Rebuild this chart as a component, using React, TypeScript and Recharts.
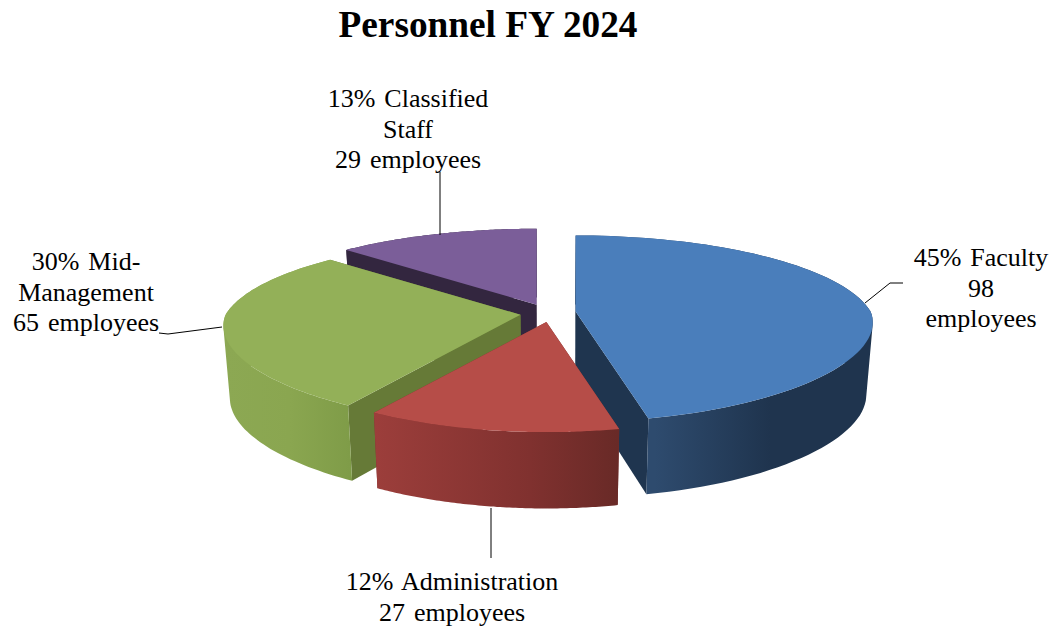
import { PieChart, Pie } from "recharts";

const names = ["Faculty", "Classified Staff", "Mid-Management", "Administration"];
const employees = [98, 29, 65, 27];
const percents = [45, 13, 30, 12];
const labelLines = [
  ["45% Faculty", "98", "employees"],
  ["13% Classified", "Staff", "29 employees"],
  ["30% Mid-", "Management", "65 employees"],
  ["12% Administration", "27 employees"],
];

const data = names.map((name, i) => ({ name, value: employees[i], percent: percents[i], lines: labelLines[i] }));

// slices go counter-clockwise so that the paint order is back to front
const total = employees.reduce((a, b) => a + b, 0);
const START = 90 - (360 * employees[0]) / total;

const WIDTH = 1059;
const HEIGHT = 627;
const CX = 548;
const CY = 313;
const RADIUS = 295;

// fake 3D projection
const TILT = 0.305;
const PERSP = 0.183;
const PERSP_X_FRONT = 0.12;
const SKEW = 6.5;
const EXPLODE_X = 28;
const EXPLODE_Y = 9;
const SHRINK = 0.98;

const styles: Record<string, any> = {
  Faculty: { top: "#4A7EBB", inner: "#1F354F", wall: ["#2E4B6E", "#1F344E", "#1F344E"], x: [655, 770, 870] },
  "Classified Staff": { top: "#7B5E99", inner: "#33263F", wall: ["#33263F", "#33263F", "#33263F"], x: [350, 450, 540] },
  "Mid-Management": { top: "#93B058", inner: "#667A37", wall: ["#8CA853", "#8AA650", "#7F9C48"], x: [226, 290, 350] },
  Administration: { top: "#B64D48", inner: "#7A302E", wall: ["#9C3E3B", "#80312F", "#692A27"], x: [375, 530, 617] },
};

const labelLayout: Record<string, any> = {
  Faculty: { x: 981, y: 266, leader: "865,303 890,283 903,283" },
  "Classified Staff": { x: 408, y: 107, leader: "440,172 440,235" },
  "Mid-Management": { x: 86, y: 270, leader: "159,333 168,334 222,327" },
  Administration: { x: 452, y: 590, leader: "491,508 491,558" },
};

const rad = (d: number) => (d * Math.PI) / 180;

function project(angle: number, ax: number, ay: number, r: number) {
  const t0 = 90 - angle;
  const t = t0 + (SKEW * (1 - Math.cos(rad(t0)))) / 2;
  const X = Math.sin(rad(t));
  const Y = -Math.cos(rad(t));
  const sy = 1 / (1 - PERSP * Y);
  const sx = Y > 0 ? 1 / (1 - PERSP_X_FRONT * Y) : sy;
  return [ax + r * X * sx, ay + r * TILT * Y * sy];
}

function lower(p: number[], cx: number, cy: number) {
  return [cx + (p[0] - cx) * SHRINK, p[1] + 72 + ((p[1] - cy) / 110) * 4];
}

const toPath = (pts: number[][]) => "M" + pts.map((p) => `${p[0].toFixed(1)},${p[1].toFixed(1)}`).join("L") + "Z";

// one quad per arc step, all wound the same way, so the silhouette at the sides stays filled
function wallPath(arc: number[][], cx: number, cy: number) {
  let d = "";
  for (let i = 0; i < arc.length - 1; i++) {
    const a = arc[i];
    const b = arc[i + 1];
    const quad = [a, b, lower(b, cx, cy), lower(a, cx, cy)];
    let area = 0;
    quad.forEach((p, j) => {
      const q = quad[(j + 1) % 4];
      area += p[0] * q[1] - q[0] * p[1];
    });
    d += toPath(area < 0 ? quad.slice().reverse() : quad);
  }
  return d;
}

function Slice(props: any) {
  const { cx, cy, outerRadius, startAngle, endAngle, name } = props;
  const st = styles[name];
  const mid = (startAngle + endAngle) / 2;
  const ax = cx + EXPLODE_X * Math.cos(rad(mid));
  const ay = cy - EXPLODE_Y * Math.sin(rad(mid));
  const arc: number[][] = [];
  for (let i = 0; i <= 80; i++) {
    arc.push(project(startAngle + ((endAngle - startAngle) * i) / 80, ax, ay, outerRadius));
  }
  const apex = [ax, ay];
  const first = arc[0];
  const last = arc[arc.length - 1];
  const gradId = "wall-" + name.replace(/\W/g, "");
  return (
    <g>
      <defs>
        <linearGradient id={gradId} gradientUnits="userSpaceOnUse" x1={st.x[0]} x2={st.x[2]} y1={0} y2={0}>
          <stop offset="0" stopColor={st.wall[0]} />
          <stop offset={(st.x[1] - st.x[0]) / (st.x[2] - st.x[0])} stopColor={st.wall[1]} />
          <stop offset="1" stopColor={st.wall[2]} />
        </linearGradient>
      </defs>
      <path d={toPath([apex, first, lower(first, cx, cy), lower(apex, cx, cy)])} fill={st.inner} />
      <path d={toPath([apex, last, lower(last, cx, cy), lower(apex, cx, cy)])} fill={st.inner} />
      <path d={wallPath(arc, cx, cy)} fill={`url(#${gradId})`} />
      <path d={toPath([apex, ...arc])} fill={st.top} />
    </g>
  );
}

function SliceLabel(props: any) {
  const { name, payload } = props;
  const lay = labelLayout[name];
  const lines: string[] = payload?.lines ?? data.find((d) => d.name === name)!.lines;
  return (
    <g>
      <polyline points={lay.leader} fill="none" stroke="#000" strokeWidth={1} />
      <text x={lay.x} y={lay.y} textAnchor="middle" fontFamily="'Liberation Serif'" fontSize={26} wordSpacing={2.5} fill="#000">
        {lines.map((l, i) => (
          <tspan key={i} x={lay.x} dy={i === 0 ? 0 : 30.6}>
            {l}
          </tspan>
        ))}
      </text>
    </g>
  );
}

export default function App() {
  return (
    <div style={{ position: "absolute", left: 0, top: 0, width: WIDTH, height: HEIGHT, background: "#fff" }}>
      <PieChart width={WIDTH} height={HEIGHT} margin={{ top: 0, right: 0, bottom: 0, left: 0 }}>
        <text x={488} y={37} textAnchor="middle" fontFamily="'Liberation Serif'" fontWeight="bold" fontSize={37.3} fill="#000">
          Personnel FY 2024
        </text>
        <Pie
          data={data}
          dataKey="value"
          nameKey="name"
          cx={CX}
          cy={CY}
          innerRadius={0}
          outerRadius={RADIUS}
          startAngle={START}
          endAngle={START + 360}
          stroke="none"
          shape={Slice}
          activeShape={Slice}
          label={SliceLabel}
          labelLine={false}
          isAnimationActive={false}
        />
      </PieChart>
    </div>
  );
}
